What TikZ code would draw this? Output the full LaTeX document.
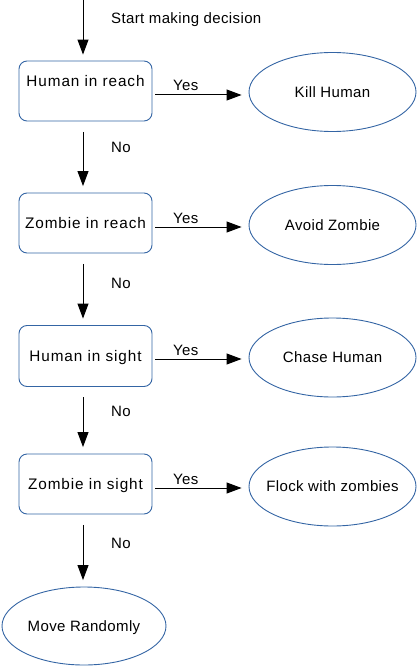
\documentclass[tikz,border=0pt]{standalone}
\usepackage{fontspec}
\setmainfont{Liberation Sans}[LetterSpace=2.5]
\newfontfamily\boxfont{Liberation Sans}[LetterSpace=6]
\usetikzlibrary{arrows.meta,shapes.geometric}
\definecolor{lobl}{HTML}{3465A4}
\begin{document}
\begin{tikzpicture}[x=1pt,y=-1pt,font=\fontsize{15}{18}\selectfont,
  box/.style={draw=lobl,line width=0.9pt,rounded corners=8pt,minimum width=133pt,minimum height=60pt,inner sep=0pt,text height=10.7pt,text depth=0pt,font=\boxfont\fontsize{15.3}{18}\selectfont},
  oval/.style={ellipse,draw=lobl,line width=0.9pt,minimum width=167pt,minimum height=79pt,inner sep=0pt,text height=10.7pt,text depth=0pt},
  txt/.style={inner sep=0pt,text height=10.7pt,text depth=0pt,font=\boxfont\fontsize{15.3}{18}\selectfont},
  arr/.style={-{Triangle[length=15pt,width=11pt]},line width=1pt},
  varr/.style={arr,shorten <=10.5pt,shorten >=6.5pt},
  harr/.style={arr,shorten <=3pt,shorten >=7pt},
  lbl/.style={anchor=base west,inner sep=0pt}]
\useasboundingbox (0,0) rectangle (417,666);

\node[box] (b1) at (85.5,91) {};
\node[txt] (t1) at (85.5,81) {Human in reach};
\node[box] (b2) at (85.5,223) {Zombie in reach};
\node[box,minimum height=61pt] (b3) at (85.5,356) {Human in sight};
\node[box] (b4) at (85.5,484) {Zombie in sight};

\node[oval] (e1) at (332.5,92) {\makebox[0pt]{Kill Human}};
\node[oval] (e2) at (332.5,225) {\makebox[0pt]{Avoid Zombie}};
\node[oval] (e3) at (332.5,357.5) {\makebox[0pt]{Chase Human}};
\node[oval] (e4) at (332.5,486.5) {\makebox[0pt]{Flock with zombies}};
\node[oval,minimum width=164pt,minimum height=78pt] (e5) at (84,626) {\makebox[0pt]{Move Randomly}};

\coordinate (top) at (83,0);
\draw[arr,shorten >=6pt] (top) -- ([xshift=-2.5pt]b1.north);
\node[lbl] (ls) at (111,24) {Start making decision};

\draw[varr] ([xshift=-2.5pt]b1.south) -- ([xshift=-2.5pt]b2.north);
\draw[varr] ([xshift=-2.5pt]b2.south) -- ([xshift=-2.5pt]b3.north);
\draw[varr] ([xshift=-2.5pt]b3.south) -- ([xshift=-2.5pt]b4.north);
\draw[varr] ([xshift=-2.5pt]b4.south) -- ([xshift=-1pt]e5.north);

\node[lbl] (n1) at (111,152) {No};
\node[lbl] (n2) at (111,288) {No};
\node[lbl] (n3) at (111,416) {No};
\node[lbl] (n4) at (111,548) {No};

\draw[harr] ([yshift=-4pt]b1.east) -- ([yshift=-4pt]b1.east -| e1.west);
\draw[harr] ([yshift=-4pt]b2.east) -- ([yshift=-4pt]b2.east -| e2.west);
\draw[harr] ([yshift=-3pt]b3.east) -- ([yshift=-3pt]b3.east -| e3.west);
\draw[harr] ([yshift=-4pt]b4.east) -- ([yshift=-4pt]b4.east -| e4.west);

\node[lbl] (y1) at (173,91) {Yes};
\node[lbl] (y2) at (173,223) {Yes};
\node[lbl] (y3) at (173,355) {Yes};
\node[lbl] (y4) at (173,484) {Yes};
\end{tikzpicture}
\end{document}
